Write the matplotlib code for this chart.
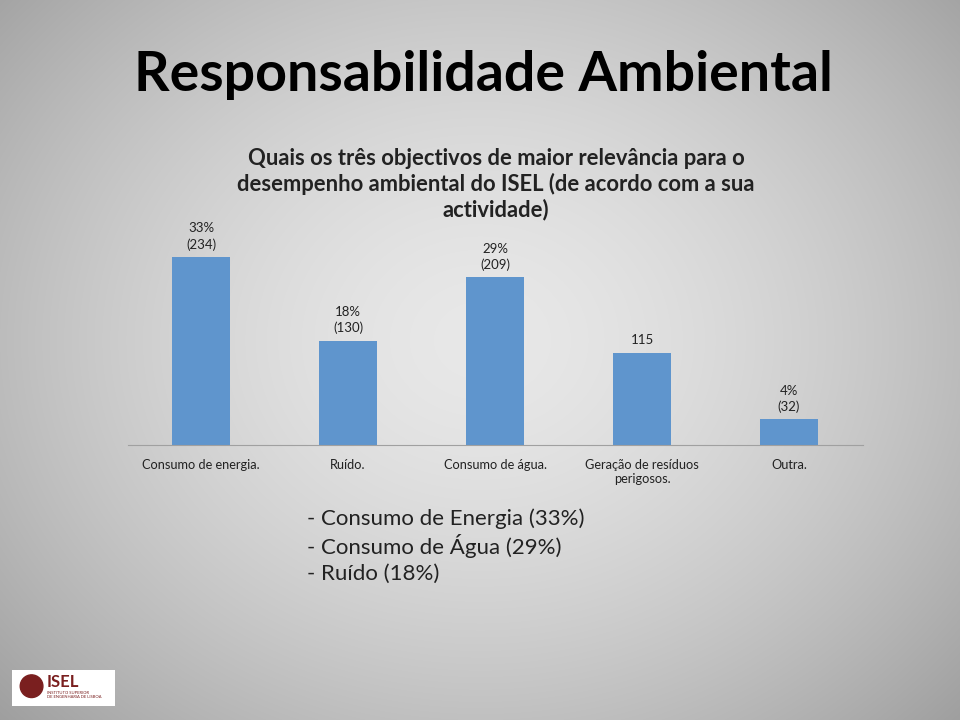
import numpy as np
import matplotlib.pyplot as plt
from matplotlib.patches import Ellipse

categorias = ["Consumo de energia.", "Ruído.", "Consumo de água.",
              "Geração de resíduos\nperigosos.", "Outra."]
valores = [234, 130, 209, 115, 32]
rotulos = ["33%\n(234)", "18%\n(130)", "29%\n(209)", "115", "4%\n(32)"]
titulo_grafico = ("Quais os três objectivos de maior relevância para o\n"
                  "desempenho ambiental do ISEL (de acordo com a sua\n"
                  "actividade)")
lista = ["- Consumo de Energia (33%)", "- Consumo de Água (29%)", "- Ruído (18%)"]

plt.rcParams['font.family'] = ['Lato', 'DejaVu Sans']

fig = plt.figure(figsize=(9.6, 7.2), dpi=100)

# fundo com gradiente radial
bg = fig.add_axes([0, 0, 1, 1], zorder=-10)
yy, xx = np.mgrid[0:720, 0:960]
r = np.sqrt(((xx - 480) / 620) ** 2 + ((yy - 340) / 520) ** 2)
cinza = np.clip(0.91 - 0.26 * r ** 1.6, 0, 1)
bg.imshow(np.dstack([cinza] * 3), aspect='auto', extent=[0, 960, 720, 0])
bg.set_xlim(0, 960)
bg.set_ylim(720, 0)
bg.axis('off')

fig.text(134 / 960, 1 - 75 / 720, "Responsabilidade Ambiental", fontsize=40,
         fontweight='bold', va='center', ha='left')

ax = fig.add_axes([127.5 / 960, 1 - 445 / 720, 735 / 960, 315 / 720])
ax.patch.set_alpha(0)
x = np.arange(len(valores))
ax.bar(x, valores, width=0.395, color='#5f95cd')
for xi, v, t in zip(x, valores, rotulos):
    ax.text(xi, v + 8, t, ha='center', va='bottom', fontsize=9.5,
            color='#222222', linespacing=1.35)
ax.set_xlim(-0.5, 4.5)
ax.set_ylim(0, 315 / 0.803)
ax.set_xticks(x)
ax.set_xticklabels(categorias, fontsize=9.2, color='#222222', linespacing=1.2)
ax.tick_params(axis='x', length=0, pad=10)
ax.set_yticks([])
for s in ['top', 'right', 'left']:
    ax.spines[s].set_visible(False)
ax.spines['bottom'].set_color('#a0a0a0')

fig.text(496 / 960, 1 - 184 / 720, titulo_grafico, fontsize=15.8,
         fontweight='bold', ha='center', va='center', color='#222222',
         linespacing=1.2)

for i, linha in enumerate(lista):
    fig.text(307 / 960, 1 - (519 + 27.5 * i) / 720, linha, fontsize=16,
             ha='left', va='center', color='#222222')

# logotipo
logo = fig.add_axes([12 / 960, 1 - 706 / 720, 103 / 960, 36 / 720])
logo.set_xticks([])
logo.set_yticks([])
logo.set_facecolor('white')
for s in logo.spines.values():
    s.set_visible(False)
logo.text(0.34, 0.68, "ISEL", fontsize=12, fontweight='bold', color='#7a1f1f',
          ha='left', va='center', transform=logo.transAxes)
logo.text(0.34, 0.3, "INSTITUTO SUPERIOR\nDE ENGENHARIA DE LISBOA", fontsize=3,
          color='#7a1f1f', ha='left', va='center', transform=logo.transAxes)
logo.add_patch(Ellipse((0.19, 0.55), 0.22, 0.22 * 103 / 36,
                       transform=logo.transAxes, color='#7a1f1f'))

fig.savefig("out.png", dpi=100)
